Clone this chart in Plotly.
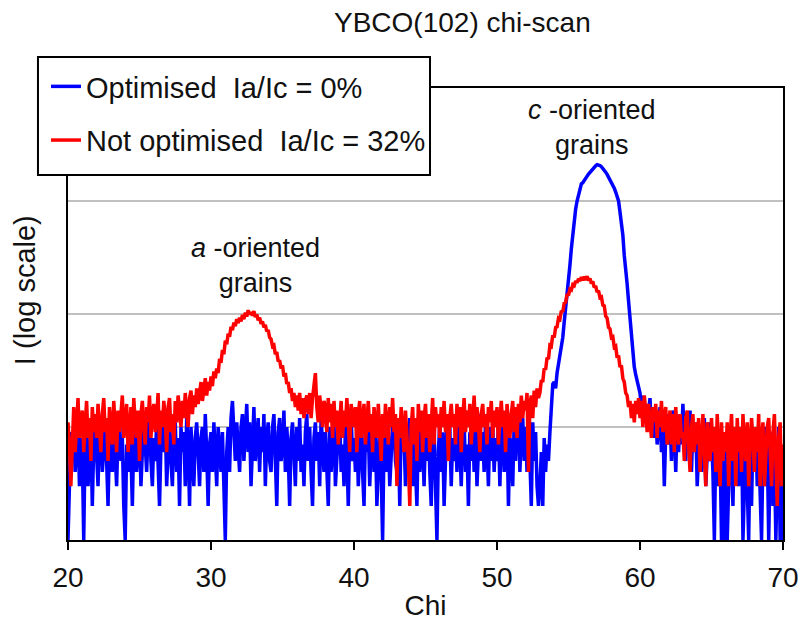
import plotly.graph_objects as go

# Scan grid: chi from 20 to 70 degrees in 0.1 degree steps
chi_start, chi_step, n_points = 20.0, 0.1, 501
chi = [round(chi_start + chi_step * i, 1) for i in range(n_points)]

# Intensity (counts), optimised sample (Ia/Ic = 0%), one row per degree
optimised = [
    1, 3, 9, 5, 10, 4, 7, 11, 3, 8,           # 20
    6, 1, 8, 10, 3, 6, 9, 2, 7, 11,           # 21
    5, 3, 9, 12, 4, 7, 10, 5, 2, 8,           # 22
    7, 4, 11, 6, 3, 9, 13, 5, 8, 2,           # 23
    1, 7, 4, 10, 6, 2, 8, 11, 4, 7,           # 24
    10, 3, 6, 12, 7, 4, 9, 14, 5, 3,          # 25
    8, 5, 11, 4, 2, 7, 10, 6, 12, 3,          # 26
    7, 13, 5, 3, 9, 11, 4, 8, 2, 10,          # 27
    6, 9, 3, 12, 7, 2, 10, 5, 3, 8,           # 28
    11, 6, 3, 8, 10, 4, 13, 6, 2, 7,          # 29
    9, 4, 11, 6, 3, 10, 7, 4, 9, 2,           # 30
    1, 6, 10, 4, 12, 17, 8, 5, 11, 7,         # 31
    4, 10, 13, 5, 9, 16, 6, 11, 3, 9,         # 32
    15, 5, 8, 12, 4, 10, 6, 13, 3, 8,         # 33
    11, 5, 4, 10, 13, 6, 2, 9, 12, 5,         # 34
    7, 14, 4, 10, 6, 2, 8, 11, 5, 3,          # 35
    10, 5, 12, 4, 7, 3, 9, 13, 5, 10,         # 36
    4, 2, 8, 11, 5, 9, 3, 12, 7, 4,           # 37
    9, 5, 2, 10, 4, 7, 11, 3, 6, 9,           # 38
    12, 4, 7, 3, 10, 6, 2, 9, 13, 5,          # 39
    8, 4, 10, 3, 6, 11, 4, 2, 9, 6,           # 40
    10, 3, 7, 12, 4, 9, 2, 6, 10, 4,          # 41
    1, 7, 11, 4, 9, 3, 6, 10, 13, 5,          # 42
    4, 9, 2, 11, 6, 8, 3, 10, 4, 12,          # 43
    7, 3, 9, 5, 2, 10, 4, 11, 7, 3,           # 44
    9, 5, 12, 4, 2, 8, 10, 3, 1, 6,           # 45
    11, 4, 9, 2, 7, 13, 5, 10, 3, 8,          # 46
    5, 10, 4, 12, 7, 3, 9, 11, 4, 7,          # 47
    2, 9, 5, 11, 4, 10, 3, 7, 13, 5,          # 48
    9, 4, 12, 7, 3, 10, 5, 11, 4, 8,          # 49
    5, 11, 3, 9, 13, 4, 7, 10, 2, 8,          # 50
    7, 3, 11, 5, 10, 14, 4, 9, 12, 5,         # 51
    10, 4, 13, 6, 2, 11, 5, 9, 3, 2,          # 52
    3, 6, 2, 8, 4, 7, 5, 9, 15, 24,           # 53
    25, 22, 30, 36, 42, 48, 62, 85, 110, 150,                     # 54
    190, 270, 380, 520, 680, 850, 1000, 1150, 1300, 1420,         # 55
    1450, 1530, 1600, 1660, 1730, 1800, 1870, 1940, 2000, 2050,   # 56
    2100, 2090, 2060, 2010, 1950, 1880, 1800, 1720, 1630, 1540,   # 57
    1450, 1380, 1300, 1200, 1100, 1000, 800, 650, 500, 330,       # 58
    220, 185, 130, 94, 60, 41, 34, 29, 26, 23,                    # 59
    20, 15, 19, 12, 16, 10, 14, 18, 9, 13,    # 60
    8, 14, 7, 12, 15, 6, 11, 3, 9, 13,        # 61
    7, 12, 5, 14, 9, 4, 11, 6, 13, 7,         # 62
    16, 8, 5, 12, 7, 14, 4, 10, 6, 11,        # 63
    3, 6, 10, 4, 8, 12, 3, 7, 11, 5,          # 64
    8, 4, 1, 7, 3, 9, 6, 1, 5, 1,             # 65
    7, 1, 3, 9, 5, 2, 10, 4, 7, 3,            # 66
    6, 10, 1, 4, 8, 3, 1, 7, 2, 9,            # 67
    5, 9, 3, 7, 2, 1, 6, 10, 3, 7,            # 68
    1, 5, 9, 2, 6, 1, 4, 10, 1, 1,            # 69
    5,                                        # 70
]

# Intensity (counts), not optimised sample (Ia/Ic = 32%), one row per degree
not_optimised = [
    11, 7, 3, 9, 15, 6, 12, 18, 8, 10,        # 20
    14, 6, 10, 17, 8, 12, 5, 15, 9, 13,       # 21
    8, 16, 10, 6, 13, 18, 9, 12, 5, 15,       # 22
    10, 7, 17, 11, 6, 14, 9, 13, 19, 8,       # 23
    12, 16, 6, 10, 15, 7, 18, 11, 8, 14,      # 24
    5, 13, 17, 10, 7, 15, 11, 19, 8, 13,      # 25
    16, 9, 12, 20, 7, 14, 10, 17, 12, 6,      # 26
    15, 18, 9, 13, 7, 17, 11, 19, 14, 10,     # 27
    17, 12, 20, 14, 10, 18, 21, 13, 19, 15,   # 28
    22, 16, 20, 25, 17, 23, 27, 19, 25, 21,   # 29
    28, 23, 31, 27, 33, 30, 40, 37, 48, 44,   # 30
    58, 54, 67, 63, 77, 72, 84, 78, 90, 83,   # 31
    93, 86, 98, 90, 103, 95, 108, 99, 104, 97,  # 32
    106, 94, 99, 88, 93, 82, 86, 76, 80, 70,  # 33
    72, 62, 60, 52, 53, 44, 46, 38, 39, 33,   # 34
    35, 28, 30, 24, 25, 20, 22, 17, 20, 15,   # 35
    19, 14, 20, 13, 18, 12, 17, 19, 13, 20,   # 36
    12, 18, 22, 30, 15, 11, 19, 14, 10, 17,   # 37
    15, 9, 18, 11, 16, 8, 17, 10, 14, 7,      # 38
    12, 17, 8, 14, 10, 18, 11, 6, 16, 12,     # 39
    10, 15, 6, 13, 17, 8, 11, 16, 7, 13,      # 40
    17, 9, 13, 6, 15, 11, 8, 16, 10, 5,       # 41
    13, 8, 16, 11, 7, 15, 10, 18, 9, 13,      # 42
    3, 12, 8, 15, 10, 6, 14, 9, 5, 2,         # 43
    10, 15, 7, 12, 5, 16, 9, 14, 6, 12,       # 44
    16, 8, 13, 6, 11, 18, 7, 15, 10, 13,      # 45
    8, 15, 10, 17, 9, 13, 5, 12, 16, 10,      # 46
    13, 7, 16, 10, 15, 6, 12, 18, 9, 14,      # 47
    10, 16, 7, 13, 19, 9, 15, 11, 6, 13,      # 48
    16, 10, 13, 7, 15, 11, 17, 8, 14, 10,     # 49
    15, 7, 12, 17, 10, 14, 6, 16, 11, 8,      # 50
    13, 17, 9, 15, 8, 16, 11, 19, 12, 17,     # 51
    14, 20, 4, 16, 19, 12, 21, 15, 22, 18,    # 52
    20, 26, 25, 33, 32, 41, 40, 53, 52, 65,   # 53
    62, 76, 77, 92, 90, 107, 104, 125, 127, 150,       # 54
    146, 166, 163, 182, 178, 196, 189, 205, 196, 212,  # 55
    199, 214, 200, 216, 198, 206, 186, 194, 172, 177,  # 56
    156, 161, 140, 142, 120, 118, 96, 92, 76, 74,      # 57
    62, 63, 51, 52, 41, 43, 34, 35, 27, 25,   # 58
    20, 19, 15, 17, 12, 16, 11, 17, 13, 18,   # 59
    12, 17, 10, 19, 14, 9, 16, 12, 8, 15,     # 60
    11, 16, 8, 14, 10, 17, 9, 12, 15, 7,      # 61
    10, 14, 7, 13, 6, 15, 9, 7, 13, 8,        # 62
    9, 5, 12, 14, 7, 4, 10, 13, 6, 11,        # 63
    7, 12, 4, 9, 13, 6, 3, 11, 8, 5,          # 64
    12, 6, 10, 4, 13, 7, 3, 11, 5, 9,         # 65
    6, 11, 3, 8, 13, 5, 10, 3, 12, 6,         # 66
    10, 4, 13, 7, 5, 11, 3, 7, 12, 8,         # 67
    4, 10, 6, 13, 3, 8, 11, 3, 5, 10,         # 68
    12, 6, 3, 9, 13, 5, 2, 8, 11, 3,          # 69
    7,                                        # 70
]

x_ticks = [20, 30, 40, 50, 60, 70]
series_names = ["Optimised\u00a0 Ia/Ic = 0%", "Not optimised\u00a0 Ia/Ic = 32%"]
series_colors = ["#0000ff", "#ff0000"]

FONT = "Liberation Sans, Arial, sans-serif"

fig = go.Figure()
fig.add_trace(go.Scatter(x=chi, y=optimised, mode="lines", name=series_names[0],
                         legendgroup="g1", line=dict(color=series_colors[0], width=3.5)))
fig.add_trace(go.Scatter(x=chi, y=not_optimised, mode="lines", name=series_names[1],
                         legendgroup="g2", line=dict(color=series_colors[1], width=3.5)))

fig.update_layout(
    width=798, height=623,
    margin=dict(l=68, r=15, t=88, b=83, autoexpand=False),
    paper_bgcolor="white", plot_bgcolor="white",
    font=dict(family=FONT, size=28, color="#111111"),
    showlegend=True,
    legend=dict(x=-0.0308, y=1.0597, xanchor="left", yanchor="top",
                bgcolor="rgba(0,0,0,0)", borderwidth=0,
                font=dict(size=29), tracegroupgap=13, itemwidth=30),
    xaxis=dict(range=[20, 70], tickvals=x_ticks, ticks="outside", ticklen=8,
               tickwidth=2, tickcolor="black", showline=True, linecolor="black",
               linewidth=2, mirror=True, showgrid=False, zeroline=False,
               automargin=False, tickfont=dict(size=28), ticklabelstandoff=3,
               ticklabeloverflow="allow",
               title=dict(text="Chi", font=dict(size=28), standoff=4)),
    yaxis=dict(type="log", range=[0, 4], dtick=1, showticklabels=False, ticks="",
               showline=True, linecolor="black", linewidth=2, mirror=True,
               showgrid=True, gridcolor="#c0c0c0", gridwidth=2, zeroline=False,
               automargin=False),
)

# Legend frame (white box with black border, overlapping the plot corner)
fig.add_shape(type="rect", xref="paper", yref="paper",
              x0=-0.042, x1=0.5063, y0=0.8075, y1=1.0686,
              line=dict(color="black", width=2), fillcolor="white", layer="above")

fig.add_annotation(text="YBCO(102) chi-scan", xref="paper", yref="paper",
                   x=0.552, y=1.146, showarrow=False, font=dict(size=28),
                   xanchor="center", yanchor="middle")
fig.add_annotation(text="I (log scale)", xref="paper", yref="paper",
                   x=-0.060, y=0.553, showarrow=False, font=dict(size=29),
                   textangle=-90, xanchor="center", yanchor="middle")
fig.add_annotation(text="<i>a</i> -oriented<br>grains", xref="x", yref="y",
                   x=33.1, y=2.43, showarrow=False, font=dict(size=27),
                   xanchor="center", yanchor="middle")
fig.add_annotation(text="<i>c</i> -oriented<br>grains", xref="x", yref="y",
                   x=56.64, y=3.65, showarrow=False, font=dict(size=27),
                   xanchor="center", yanchor="middle")

fig.write_html("out.html")
